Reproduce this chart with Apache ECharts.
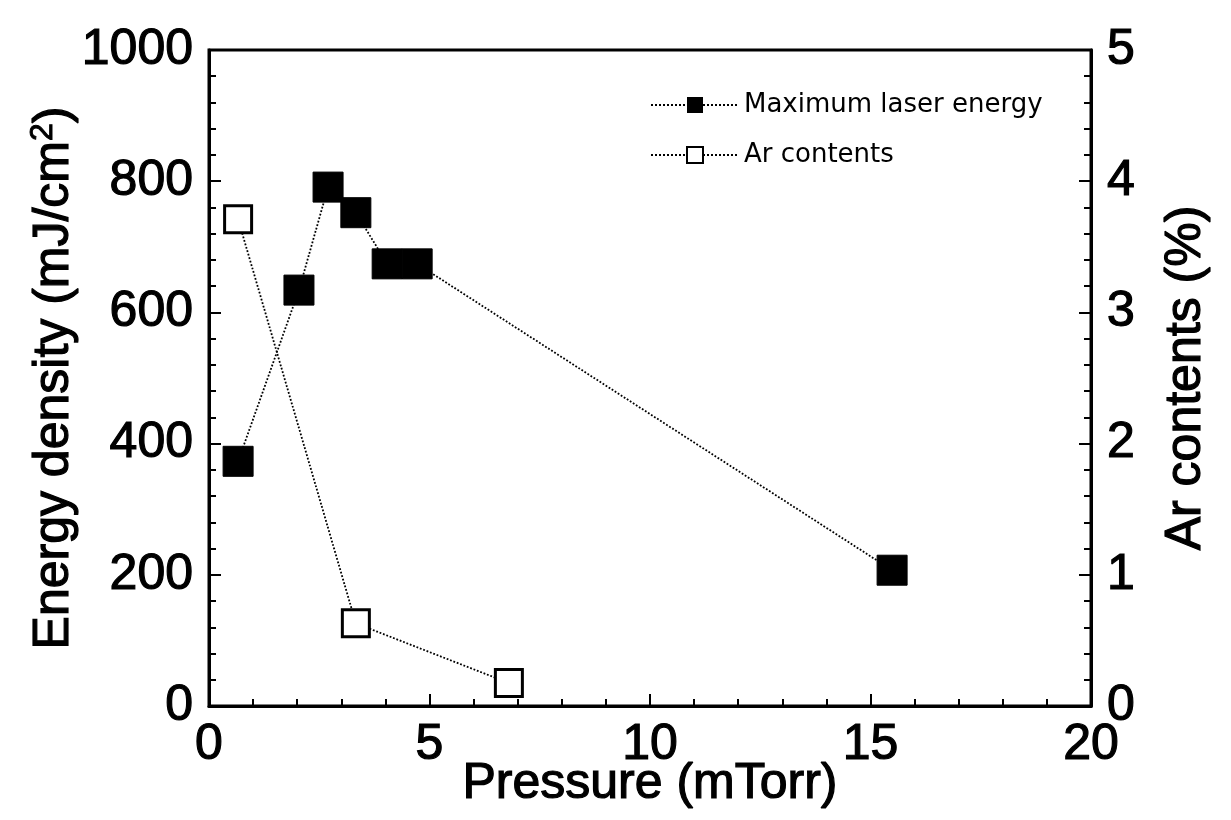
<!DOCTYPE html>
<html>
<head>
<meta charset="utf-8">
<script src="https://cdn.jsdelivr.net/npm/echarts@6/dist/echarts.min.js"></script>
<style>
  html, body { margin: 0; padding: 0; background: #fff; }
  #main { width: 1231px; height: 820px; }
</style>
</head>
<body>
<div id="main"></div>
<script>
// 数据
let pressureEnergy = [0.66, 2.04, 2.70, 3.33, 4.04, 4.72, 15.49]
let energyValues = [373, 634, 791, 752, 674, 674, 207]
let pressureAr = [0.66, 3.33, 6.80]
let arValues = [3.71, 0.63, 0.175]

let font = 'Liberation Sans, Arial, sans-serif'
// 加粗一点,模仿扫描图的粗笔画
let bigText = { fontSize: 50, color: '#000', fontFamily: font, textBorderColor: '#000', textBorderWidth: 1.2 }

;(function () {
  let mychart = echarts.init(document.getElementById('main'))
  let option = {
    animation: false,
    backgroundColor: '#fff',
    textStyle: { fontFamily: font, color: '#000' },
    grid: {
      left: 209,
      right: 140,
      top: 50,
      bottom: 114,
      outerBoundsMode: 'none',
      show: true,
      borderColor: '#000',
      borderWidth: 3
    },
    legend: {
      left: 645,
      top: 87,
      orient: 'vertical',
      itemGap: 24,
      itemWidth: 88,
      itemHeight: 20,
      textStyle: { fontSize: 26, color: '#000', fontFamily: 'DejaVu Sans, sans-serif' },
      data: ['Maximum laser energy', 'Ar contents']
    },
    xAxis: {
      type: 'value',
      min: 0,
      max: 20,
      interval: 5,
      name: 'Pressure (mTorr)',
      nameLocation: 'middle',
      nameGap: 53,
      nameMoveOverlap: false,
      nameTextStyle: bigText,
      axisLine: { lineStyle: { color: '#000', width: 3 } },
      axisTick: { inside: true, length: 12, lineStyle: { color: '#000', width: 2 } },
      minorTick: { show: true, splitNumber: 5, length: 7, lineStyle: { color: '#000', width: 2 } },
      axisLabel: Object.assign({ margin: 14 }, bigText),
      splitLine: { show: false }
    },
    yAxis: [
      {
        type: 'value',
        min: 0,
        max: 1000,
        interval: 200,
        name: '{t|Energy density (mJ/cm}{s|2}{t|)}',
        nameLocation: 'middle',
        nameGap: 128,
        nameMoveOverlap: false,
        nameTextStyle: Object.assign({}, bigText, {
          rich: {
            t: bigText,
            s: { fontSize: 32, color: '#000', fontFamily: font, textBorderColor: '#000', textBorderWidth: 1, verticalAlign: 'top', padding: [0, 0, 22, 0] }
          }
        }),
        axisLine: { show: true, lineStyle: { color: '#000', width: 3 } },
        axisTick: { inside: true, length: 12, lineStyle: { color: '#000', width: 2 } },
        minorTick: { show: true, splitNumber: 5, length: 7, lineStyle: { color: '#000', width: 2 } },
        axisLabel: Object.assign({ margin: 16, formatter: function (v) { return String(v) } }, bigText),
        splitLine: { show: false }
      },
      {
        type: 'value',
        min: 0,
        max: 5,
        interval: 1,
        position: 'right',
        name: 'Ar contents (%)',
        nameLocation: 'middle',
        nameRotate: 90,
        nameGap: 70,
        nameMoveOverlap: false,
        nameTextStyle: bigText,
        axisLine: { show: true, lineStyle: { color: '#000', width: 3 } },
        axisTick: { inside: true, length: 12, lineStyle: { color: '#000', width: 2 } },
        minorTick: { show: true, splitNumber: 5, length: 7, lineStyle: { color: '#000', width: 2 } },
        axisLabel: Object.assign({ margin: 16 }, bigText),
        splitLine: { show: false }
      }
    ],
    series: [
      {
        name: 'Maximum laser energy',
        type: 'line',
        yAxisIndex: 0,
        symbol: 'rect',
        symbolSize: 30,
        itemStyle: { color: '#000', borderColor: '#000' },
        lineStyle: { color: '#000', width: 1.8, type: 'dotted' },
        data: pressureEnergy.map(function (p, i) { return [p, energyValues[i]] })
      },
      {
        name: 'Ar contents',
        type: 'line',
        yAxisIndex: 1,
        symbol: 'rect',
        symbolSize: 27,
        itemStyle: { color: '#fff', borderColor: '#000', borderWidth: 3 },
        lineStyle: { color: '#000', width: 1.8, type: 'dotted' },
        data: pressureAr.map(function (p, i) { return [p, arValues[i]] })
      }
    ]
  }
  mychart.setOption(option)
  window.addEventListener('resize', function () {
    mychart.resize()
  })
})();
</script>
</body>
</html>
